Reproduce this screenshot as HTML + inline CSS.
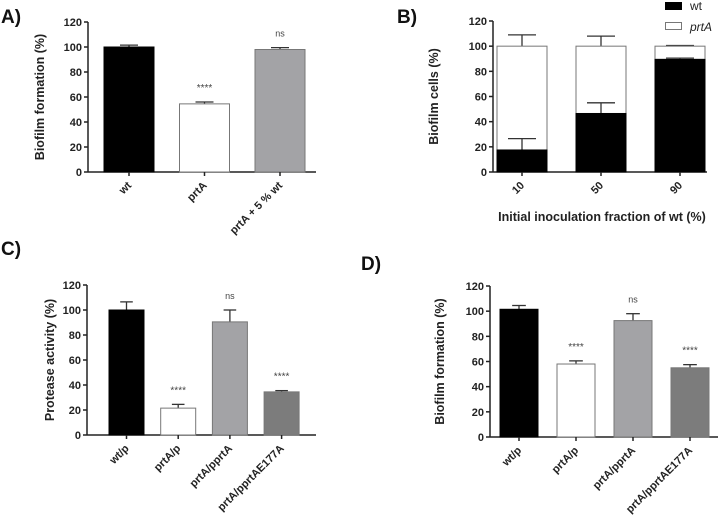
<!DOCTYPE html>
<html><head><meta charset="utf-8"><style>
html,body{margin:0;padding:0;background:#fff}
svg{display:block;font-family:"Liberation Sans",Arial,sans-serif}
</style></head><body>
<svg id="fig" width="719" height="519"></svg>
<script>
// Panel A
const aCats = ["wt","prtA","prtA + 5 % wt"];
const aVals = [100, 54.5, 98];
const aErrs = [101.5, 56, 99.5];
const aSig = ["", "****", "ns"];
// Panel B
const bCats = ["10","50","90"];
const bWt = [17.5, 46.5, 89.5];
const bWtErr = [26.5, 55, 90.5];
const bTotal = [100, 100, 100];
const bTotErr = [109, 108, 100.5];
// Panel C
const cCats = ["wt/p","prtA/p","prtA/pprtA","prtA/pprtAE177A"];
const cVals = [100, 21.5, 90.5, 34.5];
const cErrs = [106.5, 24.5, 100, 35.5];
const cSig = ["", "****", "ns", "****"];
// Panel D
const dCats = ["wt/p","prtA/p","prtA/pprtA","prtA/pprtAE177A"];
const dVals = [101.5, 58, 92.5, 55];
const dErrs = [104.5, 60.5, 98, 57.5];
const dSig = ["", "****", "ns", "****"];
const yTicks = [0,20,40,60,80,100,120];

const NS="http://www.w3.org/2000/svg";
const svg=document.getElementById('fig');
function mk(tag,attrs,parent){const e=document.createElementNS(NS,tag);for(const k in attrs)e.setAttribute(k,attrs[k]);(parent||svg).appendChild(e);return e;}
function txt(s,attrs,parent){const e=mk('text',attrs,parent);e.textContent=s;return e;}

function axes(g,x0,x1,y0,yTop){
  const ys=v=>y0-(y0-yTop)*v/120;
  const ya=mk('line',{x1:x0,y1:ys(120),x2:x0,y2:y0,stroke:'#222','stroke-width':1.5},g);
  
  const xa=mk('line',{x1:x0,y1:y0,x2:x1,y2:y0,stroke:'#222','stroke-width':1.5},g);
  
  yTicks.forEach(t=>{
    mk('line',{x1:x0-4,y1:ys(t),x2:x0,y2:ys(t),stroke:'#222','stroke-width':1.5},g);
    const l=txt(t,{x:x0-6,y:ys(t)+4,'text-anchor':'end','font-size':11,'font-weight':'bold',fill:'#222'},g);
    
  });
  return ys;
}
function catLabels(g,cats,xc,y0){
  cats.forEach((c,i)=>{
    mk('line',{x1:xc(i),y1:y0,x2:xc(i),y2:y0+4,stroke:'#222','stroke-width':1.5},g);
    const t=txt(c,{x:xc(i)+3,y:y0+14,'text-anchor':'end','font-size':11,'font-weight':'bold',fill:'#222',transform:`rotate(-45 ${xc(i)+3} ${y0+14})`},g);
    
  });
}
function ytitle(g,s,x,yc){
  const t=txt(s,{x:x,y:yc,'text-anchor':'middle','font-size':12.5,'font-weight':'bold',fill:'#222',transform:`rotate(-90 ${x} ${yc})`},g);
  
}
function panelLabel(s,x,y){
  const t=txt(s,{x:x,y:y,'font-size':19,'font-weight':'bold',fill:'#111'});
  
}
function errBar(g,xc,ys,v,e,hw){
  mk('line',{x1:xc,y1:ys(v),x2:xc,y2:ys(e),stroke:'#333','stroke-width':1.3},g);
  mk('line',{x1:xc-hw,y1:ys(e),x2:xc+hw,y2:ys(e),stroke:'#333','stroke-width':1.3},g);
}
const fills=['#000','#fff','#a3a3a6','#7c7c7c'];
function barPanel(name,cats,vals,errs,sig,x0,x1,y0,yTop,firstLeft,step,bw,title,titleX){
  const g=mk('g',{});
  const ys=axes(g,x0,x1,y0,yTop);
  const xc=i=>firstLeft+bw/2+i*step;
  vals.forEach((v,i)=>{
    errBar(g,xc(i),ys,v,errs[i],bw*0.18);
    const r=mk('rect',{x:xc(i)-bw/2,y:ys(v),width:bw,height:y0-ys(v),fill:fills[i],stroke:i==0?'#000':'#777','stroke-width':1},g);
    
    
    if(sig[i]){
      const s=txt(sig[i],{x:xc(i),y:ys(errs[i])-11,'text-anchor':'middle','font-size':sig[i]=='ns'?9:10,fill:'#444'},g);
      
    }
  });
  catLabels(g,cats,xc,y0);
  ytitle(g,title,titleX,(y0+yTop)/2);
}
panelLabel('A)',1,23);
barPanel('panel-a',aCats,aVals,aErrs,aSig,88,316,172,22,104,75.5,50,'Biofilm formation (%)',44);
panelLabel('C)',1,255);
barPanel('panel-c',cCats,cVals,cErrs,cSig,87,316,435,285,109,51.7,35,'Protease activity (%)',54);
panelLabel('D)',361,270);
barPanel('panel-d',dCats,dVals,dErrs,dSig,490,718,437,286,500,57,38,'Biofilm formation (%)',444);

// Panel B
panelLabel('B)',397,23);
(function(){
  const g=mk('g',{});
  const x0=493,x1=707,y0=172,yTop=21,bw=50,step=79,firstLeft=497;
  const ys=axes(g,x0,x1,y0,yTop);
  const xc=i=>firstLeft+bw/2+i*step;
  bCats.forEach((c,i)=>{
    errBar(g,xc(i),ys,bTotal[i],bTotErr[i],bw*0.28);
    const r1=mk('rect',{x:xc(i)-bw/2,y:ys(bTotal[i]),width:bw,height:ys(bWt[i])-ys(bTotal[i]),fill:'#fff',stroke:'#777','stroke-width':1},g);
    
    errBar(g,xc(i),ys,bWt[i],bWtErr[i],bw*0.28);
    const r2=mk('rect',{x:xc(i)-bw/2,y:ys(bWt[i]),width:bw,height:y0-ys(bWt[i]),fill:'#000',stroke:'#000','stroke-width':1},g);
    
  });
  catLabels(g,bCats,xc,y0);
  ytitle(g,'Biofilm cells (%)',438,(y0+yTop)/2);
  const xt=txt('Initial inoculation fraction of wt (%)',{x:602,y:221,'text-anchor':'middle','font-size':12.5,'font-weight':'bold',fill:'#222'},g);
  
  const l1=mk('g',{},g);
  mk('rect',{x:665,y:2,width:17,height:8,fill:'#000'},l1);
  txt('wt',{x:690,y:10,'font-size':12,fill:'#222'},l1);
  const l2=mk('g',{},g);
  mk('rect',{x:665.5,y:22.5,width:16,height:7,fill:'#fff',stroke:'#777'},l2);
  txt('prtA',{x:690,y:31,'font-size':12,'font-style':'italic',fill:'#222'},l2);
})();
</script>
</body></html>
